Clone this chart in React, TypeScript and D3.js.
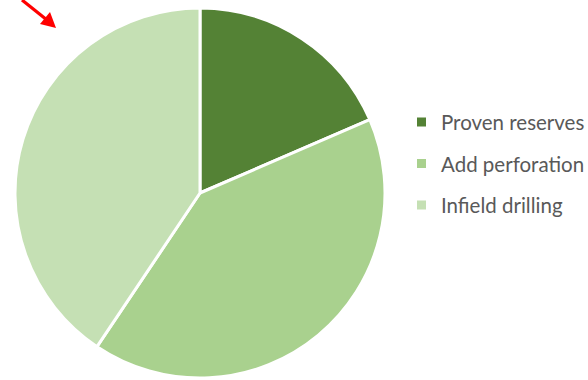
import React from "react";
import * as d3 from "d3";

const categories = ["Proven reserves", "Add perforation", "Infield drilling"];
const values = [18.5, 40.9, 40.6];
const colors = ["#548235", "#A9D18E", "#C5E0B4"];

export default function App() {
  const W = 588, H = 380;
  const cx = 200, cy = 193, r = 185;
  const pie = d3.pie<number>().sort(null).value((d) => d);
  const arcs = pie(values);
  const arcGen = d3.arc<d3.PieArcDatum<number>>().innerRadius(0).outerRadius(r);
  const legendY = d3.scalePoint<string>().domain(categories).range([122, 205]);
  return (
    <div style={{ position: "absolute", left: 0, top: 0 }}>
      <svg width={W} height={H} style={{ display: "block", background: "#fff" }}>
        <g transform={`translate(${cx},${cy})`}>
          {arcs.map((a, i) => (
            <path key={i} d={arcGen(a) || ""} fill={colors[i]} stroke="#fff" strokeWidth={3} strokeLinejoin="round" />
          ))}
        </g>
        <g fontFamily="Lato, 'Open Sans', sans-serif" fontSize={20.5} fill="#595959">
          {categories.map((c, i) => (
            <g key={c} transform={`translate(417,${legendY(c)})`}>
              <rect x={0} y={-4.5} width={9} height={9} fill={colors[i]} />
              <text x={24} y={0} dominantBaseline="central">{c}</text>
            </g>
          ))}
        </g>
        <g>
          <line x1={22} y1={0} x2={47} y2={20} stroke="#FF0000" strokeWidth={3.2} />
          <polygon points="56,28 40,24 50,12" fill="#FF0000" />
        </g>
      </svg>
    </div>
  );
}
